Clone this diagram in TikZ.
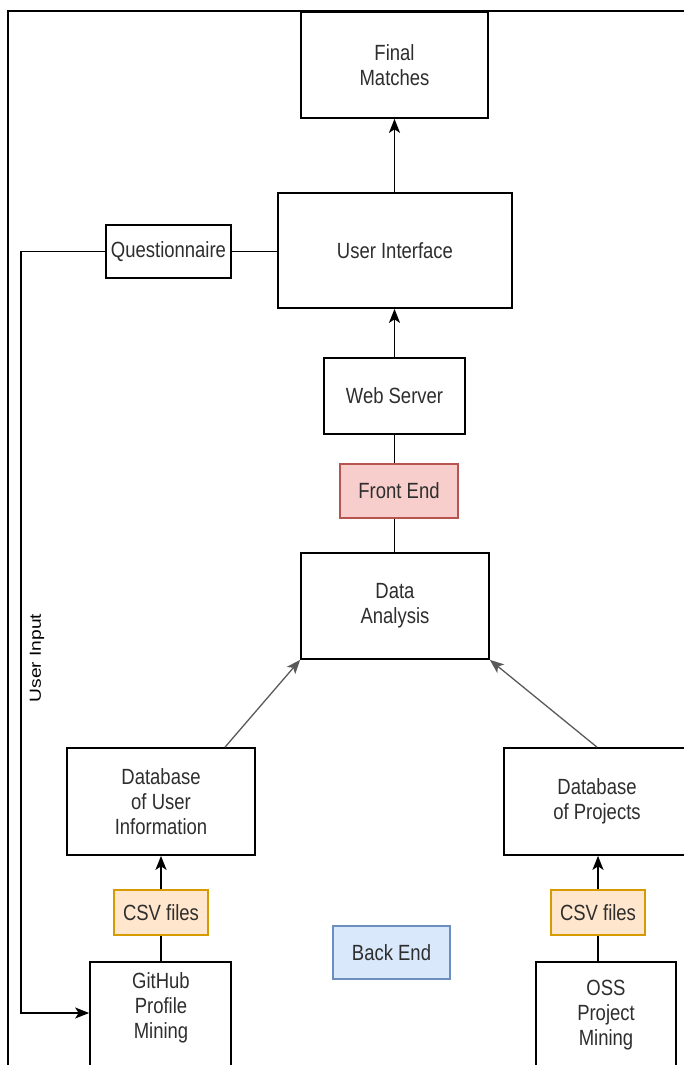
\documentclass[tikz,border=0pt]{standalone}
\usepackage{fontspec}
\setmainfont[FakeStretch=0.84]{Liberation Sans}
\newfontfamily\rotfont[FakeStretch=1.2]{Liberation Sans}
\usetikzlibrary{arrows.meta,calc}
\definecolor{txt}{HTML}{2E2E2E}
\definecolor{redfill}{HTML}{F8CECC}
\definecolor{redline}{HTML}{B85450}
\definecolor{orfill}{HTML}{FFE6CC}
\definecolor{orline}{HTML}{D79B00}
\definecolor{bluefill}{HTML}{DAE8FC}
\definecolor{blueline}{HTML}{6C8EBF}
\definecolor{diag}{HTML}{5A5A5A}
\begin{document}
\begin{tikzpicture}[x=1pt,y=-1pt,
  box/.style={draw=black, line width=1.7pt, fill=white, inner sep=0pt,
    font=\fontsize{22}{25}\selectfont, text=txt, align=center},
  tag/.style={box, line width=1.3pt},
  lbl/.style={inner sep=0pt, font=\fontsize{22}{25}\selectfont, text=txt, align=center},
  conn/.style={line width=1.6pt, draw=black},
  arr/.style={conn, -{Stealth[length=14pt,width=11pt,inset=3.5pt]}},
  darr/.style={line width=1.3pt, draw=diag, -{Stealth[length=14pt,width=11pt,inset=3.5pt]}}
]
\useasboundingbox (0,0) rectangle (684,1065);
\fill[white] (0,0) rectangle (684,1065);
\clip (0,0) rectangle (684,1065);

% outer frame
\draw[line width=2.6pt] (8,1090) -- (8,11) -- (700,11);

% nodes
\node[box, minimum width=187pt, minimum height=106pt] (final) at (394.5,65) {Final\\Matches};
\node[box, minimum width=234pt, minimum height=115pt] (ui) at (395,250.5) {User Interface};
\node[box, minimum width=125pt, minimum height=53pt] (quest) at (168.5,251.5) {Questionnaire};
\node[box, minimum width=141pt, minimum height=76pt] (web) at (394.5,396) {Web Server};
\node[tag, draw=redline, fill=redfill, minimum width=118pt, minimum height=54pt] (front) at (399,491) {Front End};
\node[box, minimum width=188pt, minimum height=106pt] (da) at (395,606) {Data\\Analysis};
\node[box, minimum width=188pt, minimum height=107pt] (dbu) at (161,801.5) {Database\\of User\\Information};
\node[box, minimum width=186pt, minimum height=107pt] (dbp) at (597,801.5) {Database\\of Projects};
\node[tag, draw=orline, fill=orfill, minimum width=94pt, minimum height=45pt] (csvl) at (161,912.5) {CSV files};
\node[tag, draw=orline, fill=orfill, minimum width=94pt, minimum height=45pt] (csvr) at (598,912.5) {CSV files};
\node[tag, draw=blueline, fill=bluefill, minimum width=117pt, minimum height=53pt] (back) at (391.5,952.5) {Back End};
\node[box, minimum width=141pt, minimum height=130pt] (gh) at (160.5,1027) {};
\node[lbl] (ghtext) at (161,1008) {GitHub\\Profile\\Mining};
\node[box, minimum width=140pt, minimum height=130pt] (oss) at (606,1027) {};
\node[lbl] (osstext) at (606,1015) {OSS\\Project\\Mining};

% connectors
\draw[arr] (ui.north -| final.south) -- (final.south);
\draw[arr] (web.north) -- (web.north |- ui.south);
\draw[conn] (web.south) -- (web.south |- front.north);
\draw[conn] (web.south |- front.south) -- (web.south |- da.north);
\draw[darr] ([xshift=64pt]dbu.north) -- (da.south west);
\draw[darr] (dbp.north) -- (da.south east);
\draw[arr] (csvl.north) -- (csvl.north |- dbu.south);
\draw[conn] (csvl.south |- gh.north) -- (csvl.south);
\draw[arr] (csvr.north) -- (csvr.north |- dbp.south);
\draw[conn] (csvr.south |- oss.north) -- (csvr.south);
\draw[conn] (quest.east) -- (quest.east -| ui.west);
\coordinate (cornerTop) at (21,251.5);
\coordinate (cornerBot) at (21,1013);
\draw[arr] (quest.west) -- (cornerTop) -- (cornerBot) -- (cornerBot -| gh.west);
\node[inner sep=0pt, rotate=90, font=\rotfont\fontsize{16}{18}\selectfont, text=black] (uinput) at (37,658) {User Input};
\end{tikzpicture}
\end{document}
